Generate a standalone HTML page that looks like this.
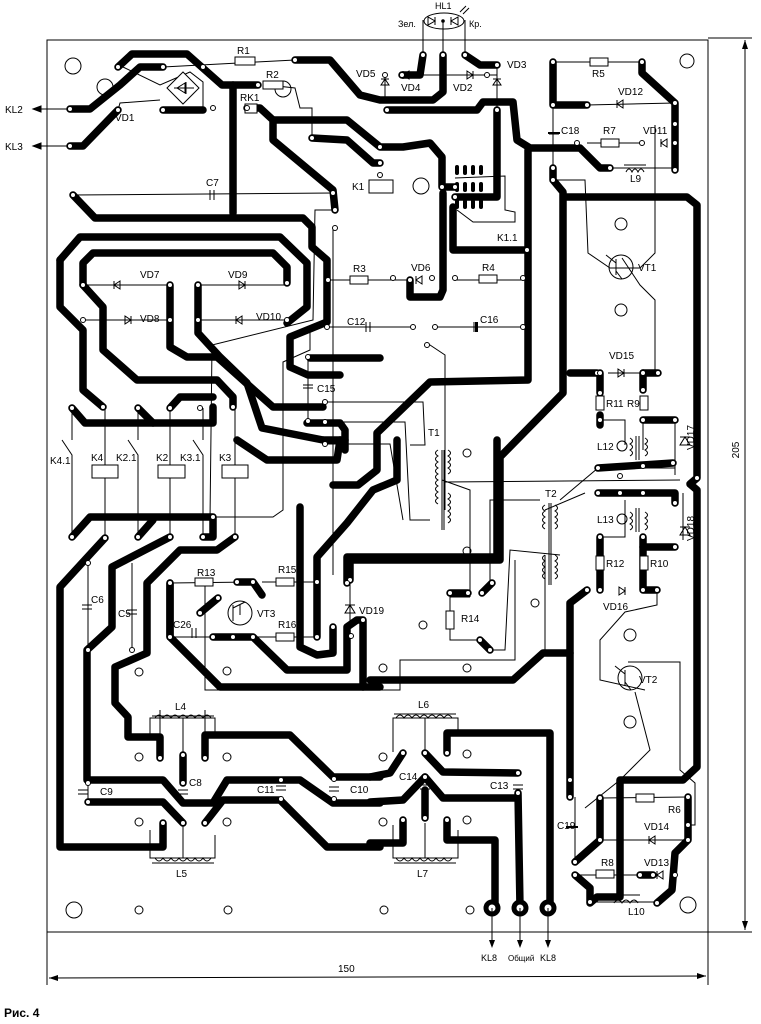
<!DOCTYPE html>
<html><head><meta charset="utf-8"><style>
html,body{margin:0;padding:0;background:#fff}
svg{display:block}
text{font-family:"Liberation Sans",sans-serif;font-size:10px;fill:#000}
.t{fill:none;stroke:#000;stroke-width:7.5;stroke-linejoin:round;stroke-linecap:round}
.n{fill:none;stroke:#000;stroke-width:1}
.p{fill:#fff;stroke:#000;stroke-width:1}
.r{fill:#fff;stroke:#000;stroke-width:1}
</style></head><body>
<svg width="761" height="1024" viewBox="0 0 761 1024" xmlns="http://www.w3.org/2000/svg">
<rect x="47" y="40" width="661" height="892" class="n"/>
<line x1="708" y1="38" x2="752" y2="38" class="n"/>
<line x1="708" y1="932" x2="752" y2="932" class="n"/>
<line x1="745" y1="40" x2="745" y2="930" class="n"/>
<path d="M745 40 l-3 9 h6z M745 930 l-3 -9 h6z"/>
<text x="739" y="450" transform="rotate(-90 739 450)" text-anchor="middle">205</text>
<line x1="47" y1="932" x2="47" y2="985" class="n"/>
<line x1="708" y1="932" x2="708" y2="985" class="n"/>
<line x1="49" y1="978" x2="706" y2="976" class="n"/>
<path d="M49 978 l9 -3 v6z M706 976 l-9 -3 v6z"/>
<text x="338" y="972">150</text>
<text x="4" y="1017" style="font-weight:bold;font-size:12px">Рис. 4</text>

<g class="p">
<circle cx="73" cy="66" r="8"/><circle cx="105" cy="87" r="8"/><circle cx="283" cy="89" r="8"/>
<circle cx="421" cy="186" r="8"/><circle cx="687" cy="61" r="7"/><circle cx="621" cy="224" r="6"/>
<circle cx="621" cy="310" r="6"/><circle cx="630" cy="635" r="6"/><circle cx="630" cy="722" r="6"/>
<circle cx="688" cy="905" r="8"/><circle cx="74" cy="910" r="8"/>
<circle cx="139" cy="910" r="4"/><circle cx="228" cy="910" r="4"/><circle cx="384" cy="910" r="4"/><circle cx="470" cy="910" r="4"/>
<circle cx="139" cy="672" r="4"/><circle cx="227" cy="671" r="4"/><circle cx="139" cy="757" r="4"/><circle cx="227" cy="757" r="4"/>
<circle cx="139" cy="822" r="4"/><circle cx="227" cy="822" r="4"/><circle cx="383" cy="757" r="4"/><circle cx="467" cy="754" r="4"/>
<circle cx="383" cy="822" r="4"/><circle cx="467" cy="820" r="4"/><circle cx="383" cy="668" r="4"/><circle cx="467" cy="668" r="4"/>
<circle cx="423" cy="625" r="4"/><circle cx="535" cy="603" r="4"/><circle cx="467" cy="453" r="4"/><circle cx="467" cy="551" r="4"/>
</g>

<g class="t">
<polyline points="118,67 132,54 187,54 222,85 258,85"/>
<polyline points="70,109 90,109 120,85 140,67 163,67"/>
<polyline points="70,146 83,146 118,110"/>
<polyline points="163,110 203,110"/>
<polyline points="233,85 233,213"/>
<polyline points="73,195 95,218 303,218 312,227 312,247 327,260 327,322 290,337 290,367 308,375 340,375"/>
<polyline points="247,108 260,108 273,120 273,140 333,190 335,210"/>
<polyline points="273,120 347,120 380,147 403,147 430,143 442,157 442,187 455,187"/>
<polyline points="312,138 347,140 373,163 380,163"/>
<polyline points="60,260 80,237 280,237 307,263 307,307 287,323"/>
<polyline points="60,260 60,307 83,330 83,390 103,407"/>
<polyline points="83,285 83,263 93,253 273,253 287,267 287,283"/>
<polyline points="83,285 103,307 103,350 137,380 217,380 233,397 233,407"/>
<polyline points="170,285 170,347 187,357 217,357 273,407 323,407"/>
<polyline points="198,285 198,333 220,357 247,383 262,428 323,440"/>
<polyline points="72,408 85,423 213,423 213,407"/>
<polyline points="138,408 153,423"/>
<polyline points="170,408 180,397 213,397"/>
<polyline points="310,358 380,358"/>
<polyline points="307,423 340,423 345,430 345,450"/>
<polyline points="402,75 420,75 423,55"/>
<polyline points="443,55 443,92 433,100 380,100 360,95 330,60 295,60"/>
<polyline points="465,55 480,65 497,65"/>
<polyline points="387,110 477,110 483,102 513,102 517,140 530,148 580,148 600,168 610,168"/>
<polyline points="497,110 497,197 455,197"/>
<polyline points="410,280 410,297 440,297 443,290 443,193"/>
<polyline points="453,207 453,250 527,250"/>
<polyline points="528,150 528,380 430,382 377,433 377,470 358,485 333,485"/>
<polyline points="553,62 553,105 587,105"/>
<polyline points="642,62 642,73 675,103 675,170"/>
<polyline points="553,168 553,180 563,192 563,393 500,457 500,560 350,560 350,580"/>
<polyline points="567,197 687,197 697,205 697,478 690,484 697,490 697,767 683,780 620,780 620,897 597,897 590,903"/>
<polyline points="570,373 597,373"/>
<polyline points="600,373 600,393"/><polyline points="643,373 658,373"/><polyline points="643,373 643,390"/>
<polyline points="643,420 675,420"/>
<polyline points="600,415 600,425"/><polyline points="598,468 673,463"/>
<polyline points="598,493 675,493 675,503"/>
<polyline points="600,537 600,590"/><polyline points="643,537 643,590 657,590"/><polyline points="643,547 675,547"/>
<polyline points="587,590 570,603 570,797"/>
<polyline points="570,653 543,653 513,680 370,680"/>
<polyline points="380,687 220,687 170,637 170,583"/>
<polyline points="497,440 497,557 370,557 347,557 347,583"/>
<polyline points="450,593 468,593"/><polyline points="482,593 492,583"/><polyline points="480,640 490,650"/>
<polyline points="447,753 447,733 550,733 550,907"/>
<polyline points="425,753 443,772 518,773"/>
<polyline points="518,793 520,907"/>
<polyline points="403,753 390,773 370,777"/>
<polyline points="425,777 443,798 517,798"/>
<polyline points="425,777 403,800 370,802"/>
<polyline points="447,820 447,840 495,840 495,907"/>
<polyline points="403,820 403,843 370,843"/>
<polyline points="425,818 425,790"/>
<polyline points="600,798 600,840 575,862"/>
<polyline points="688,797 688,840 675,853 672,890 657,903"/>
<polyline points="575,875 590,888 590,902"/>
<polyline points="640,875 653,875"/>
<polyline points="72,537 90,517 213,517 213,537 203,537"/>
<polyline points="138,537 153,520"/>
<polyline points="105,538 60,587 60,847 163,847 163,823"/>
<polyline points="170,537 112,567 112,627 87,650 87,780 163,780 183,803 213,803 227,780 300,780 333,803 380,803"/>
<polyline points="235,537 217,550 180,550 147,583 147,653 115,667 115,703 128,717 128,737 160,737 160,758"/>
<polyline points="88,802 163,802 183,823"/>
<polyline points="205,758 205,735 290,735 333,777 380,777"/>
<polyline points="205,823 223,800 280,800 327,847 380,847"/>
<polyline points="183,755 183,783"/>
<polyline points="200,613 218,598"/>
<polyline points="237,582 253,582 262,595"/>
<polyline points="213,637 253,637 287,670 347,670 347,627 357,620 363,620 363,687"/>
<polyline points="170,583 170,637"/>
<polyline points="300,507 300,647 317,655 333,653 333,627"/>
<polyline points="317,637 317,557 347,523 373,490 397,480 397,440"/>
<polyline points="237,440 267,460 337,460 340,440"/>
<polyline points="323,440 345,440"/>
</g>
<g fill="#fff" stroke="#000" stroke-width="5">
<circle cx="492" cy="908" r="6"/><circle cx="520" cy="908" r="6"/><circle cx="548" cy="908" r="6"/>
</g>
<g class="n">
<line x1="492" y1="908" x2="492" y2="945"/><line x1="520" y1="908" x2="520" y2="945"/><line x1="548" y1="908" x2="548" y2="945"/>
</g>
<path d="M492 948 l-3 -8 h6z M520 948 l-3 -8 h6z M548 948 l-3 -8 h6z"/>
<text x="481" y="961" style="font-size:9px">KL8</text><text x="508" y="961" style="font-size:8px">Общий</text><text x="540" y="961" style="font-size:9px">KL8</text>

<g class="n">
<line x1="33" y1="109" x2="70" y2="109"/><line x1="33" y1="146" x2="70" y2="146"/>
<path d="M33 109 l8 -3 v6z M33 146 l8 -3 v6z" fill="#000"/>
<line x1="73" y1="195" x2="333" y2="193"/>
<polyline points="123,67 160,85 190,72 203,82 203,110"/>
<polyline points="118,110 120,103 160,100"/>
<line x1="163" y1="67" x2="295" y2="60"/>
<polyline points="268,85 295,88 300,108 312,108 312,138"/>
<polyline points="335,210 315,210 313,320 212,345 210,520"/>
<polyline points="333,228 333,575"/>
<line x1="83" y1="285" x2="170" y2="285"/><line x1="83" y1="320" x2="170" y2="320"/>
<line x1="198" y1="285" x2="287" y2="285"/><line x1="198" y1="320" x2="287" y2="320"/>
<line x1="328" y1="280" x2="410" y2="280"/><line x1="455" y1="280" x2="527" y2="280"/>
<line x1="328" y1="327" x2="413" y2="327"/><line x1="435" y1="327" x2="527" y2="327"/>
<polyline points="427,343 445,355 445,510"/>
<line x1="308" y1="358" x2="308" y2="425"/>
<polyline points="325,402 423,402 425,445 410,445"/>
<polyline points="325,422 405,422 410,520 430,520"/>
<polyline points="325,444 390,444 403,520"/>
<polyline points="442,480 470,490 470,597"/>
<polyline points="445,482 680,480"/>
<polyline points="490,583 490,500 540,500"/>
<polyline points="470,597 450,597 450,640 480,640"/>
<polyline points="492,650 505,650 510,550 560,555"/>
<polyline points="545,555 545,650"/>
<polyline points="560,500 598,468"/><polyline points="545,510 585,493"/>
<polyline points="553,180 585,180 588,253 610,268 640,268 655,253 655,125"/>
<polyline points="622,258 640,285 655,300 655,373"/>
<polyline points="553,62 642,62"/><polyline points="587,105 675,103"/>
<polyline points="553,105 553,168"/>
<polyline points="587,143 642,143"/><polyline points="610,168 675,168"/>
<polyline points="608,373 643,373"/>
<polyline points="600,420 625,420 625,445"/><polyline points="643,420 643,450"/>
<polyline points="675,420 675,475"/><polyline points="640,468 675,468"/>
<polyline points="683,493 683,540"/>
<polyline points="600,537 625,537 625,500"/>
<polyline points="657,590 657,605 625,612 600,640 600,680 645,690"/>
<polyline points="635,692 650,750 620,780 585,808"/>
<polyline points="628,662 680,662 680,770 695,783 695,825 688,825"/>
<polyline points="205,583 205,690 400,690 400,660 515,660 515,560"/>
<line x1="170" y1="583" x2="253" y2="582"/><line x1="262" y1="582" x2="317" y2="582"/>
<line x1="170" y1="637" x2="213" y2="637"/><line x1="253" y1="637" x2="317" y2="637"/>
<line x1="350" y1="580" x2="350" y2="637"/>
<line x1="600" y1="798" x2="688" y2="797"/><line x1="600" y1="840" x2="688" y2="840"/>
<line x1="575" y1="875" x2="640" y2="875"/><line x1="590" y1="902" x2="657" y2="902"/>
<polyline points="575,797 575,862"/>
<line x1="88" y1="560" x2="88" y2="802"/><line x1="132" y1="563" x2="132" y2="650"/>
<polyline points="72,537 72,455 62,440"/><polyline points="138,537 138,455 128,440"/><polyline points="203,537 203,455 193,440"/>
<line x1="105" y1="478" x2="105" y2="538"/><line x1="105" y1="408" x2="105" y2="465"/>
<line x1="170" y1="478" x2="170" y2="537"/><line x1="170" y1="408" x2="170" y2="465"/>
<line x1="235" y1="478" x2="235" y2="537"/><line x1="235" y1="408" x2="235" y2="465"/>
<polyline points="72,408 72,440"/><polyline points="138,408 138,440"/><polyline points="203,408 203,440"/>
<polyline points="213,517 273,517 283,510 283,362 310,350 310,330"/>
<line x1="423" y1="55" x2="423" y2="20"/><line x1="443" y1="55" x2="443" y2="20"/><line x1="465" y1="55" x2="465" y2="20"/>
<line x1="385" y1="75" x2="385" y2="100"/><line x1="497" y1="65" x2="497" y2="110"/>
<line x1="402" y1="75" x2="497" y2="75"/>
<line x1="160" y1="737" x2="160" y2="710"/><line x1="205" y1="735" x2="205" y2="710"/>
<polyline points="150,735 150,718 215,718 215,735"/><polyline points="150,830 150,858 215,858 215,835"/>
<polyline points="393,752 393,718 458,718 458,735"/><polyline points="393,825 393,858 458,858 458,830"/>
<line x1="183" y1="718" x2="183" y2="755"/><line x1="183" y1="823" x2="183" y2="858"/>
<line x1="425" y1="718" x2="425" y2="753"/><line x1="425" y1="823" x2="425" y2="858"/>
<line x1="152" y1="716" x2="214" y2="716"/><line x1="152" y1="863" x2="214" y2="863"/>
<line x1="394" y1="714" x2="456" y2="714"/><line x1="394" y1="863" x2="456" y2="863"/>
</g>

<g class="r">
<rect x="235" y="57" width="20" height="8"/><rect x="263" y="81" width="20" height="8"/>
<rect x="590" y="58" width="18" height="8"/><rect x="601" y="139" width="18" height="8"/>
<rect x="350" y="276" width="18" height="8"/><rect x="479" y="275" width="18" height="8"/>
<rect x="195" y="578" width="18" height="8"/><rect x="276" y="578" width="18" height="8"/><rect x="276" y="633" width="18" height="8"/>
<rect x="446" y="611" width="8" height="18"/>
<rect x="596" y="396" width="8" height="14"/><rect x="640" y="396" width="8" height="14"/>
<rect x="596" y="556" width="8" height="14"/><rect x="640" y="556" width="8" height="14"/>
<rect x="636" y="794" width="18" height="8"/><rect x="596" y="870" width="18" height="8"/>
<rect x="92" y="465" width="26" height="13"/><rect x="158" y="465" width="27" height="13"/><rect x="222" y="465" width="26" height="13"/>
<rect x="369" y="180" width="24" height="13"/>
<rect x="245" y="104" width="12" height="9"/>
</g>
<path d="M183 72 l16 16 -16 16 -16 -16z" class="r"/>
<path d="M177 88 l8 -5 v10z M186 82 v12 M174 88 h20" class="n" fill="none"/>
<g fill="#000">
<rect x="455" y="165" width="4" height="10" rx="2"/><rect x="463" y="165" width="4" height="10" rx="2"/><rect x="471" y="165" width="4" height="10" rx="2"/><rect x="479" y="165" width="4" height="10" rx="2"/>
<rect x="455" y="182" width="4" height="10" rx="2"/><rect x="463" y="182" width="4" height="10" rx="2"/><rect x="471" y="182" width="4" height="10" rx="2"/><rect x="479" y="182" width="4" height="10" rx="2"/>
<rect x="455" y="199" width="4" height="10" rx="2"/><rect x="463" y="199" width="4" height="10" rx="2"/><rect x="471" y="199" width="4" height="10" rx="2"/><rect x="479" y="199" width="4" height="10" rx="2"/>
</g>
<polyline points="455,178 505,176 505,210 515,212 515,222 473,222 457,210" class="n"/>
<g class="n" fill="none">
<path d="M120 281 v8 l-6 -4z M114 281 v8"/><path d="M125 316 v8 l6 -4z M131 316 v8"/>
<path d="M239 281 v8 l6 -4z M245 281 v8"/><path d="M242 316 v8 l-6 -4z M236 316 v8"/>
<path d="M422 276 v8 l-6 -4z M416 276 v8"/>
<path d="M623 100 v8 l-6 -4z M617 100 v8"/><path d="M667 139 v8 l-6 -4z M661 139 v8"/>
<path d="M618 369 v8 l6 -4z M624 369 v8"/><path d="M619 587 v8 l6 -4z M625 587 v8"/>
<path d="M655 836 v8 l-6 -4z M649 836 v8"/><path d="M663 871 v8 l-6 -4z M657 871 v8"/>
<path d="M409 71 v8 l-6 -4z M403 71 v8"/><path d="M467 71 v8 l6 -4z M473 71 v8"/>
<path d="M381 85 h8 l-4 -6z M381 79 h8"/><path d="M493 85 h8 l-4 -6z M493 79 h8"/>
<path d="M680 445 h10 l-5 -8z M680 437 h10"/><path d="M680 535 h10 l-5 -8z M680 527 h10"/>
<path d="M345 613 h10 l-5 -8z M345 605 h10"/>
<ellipse cx="444" cy="21" rx="20" ry="8"/><path d="M428 17 v8 l7 -4z M435 17 v8 M458 17 v8 l-7 -4z M451 17 v8"/>
<path d="M460 12 l6 -6 M463 14 l6 -6"/>
</g>
<circle cx="443" cy="21" r="1.8"/>
<g class="n" fill="none">
<path d="M210 190 v10 M214 190 v10"/><path d="M366 322 v10 M370 322 v10"/><path d="M474 322 v10"/>
<path d="M549 134 h10"/><path d="M303 385 h10 M303 388 h10"/>
<path d="M82 605 h10 M82 609 h10"/><path d="M127 610 h10 M127 614 h10"/>
<path d="M192 628 v10 M196 628 v10"/>
<path d="M78 790 h10 M78 794 h10"/><path d="M178 790 h10 M178 794 h10"/>
<path d="M276 786 h10 M276 790 h10"/><path d="M329 787 h10 M329 791 h10"/>
<path d="M420 785 h10 M420 789 h10"/><path d="M513 785 h10 M513 789 h10"/>
<path d="M567 827 h10"/>
</g>
<path d="M475 322 h3 v10 h-3z"/><path d="M548 132 h12 v2 h-12z M566 826 h12 v2 h-12z"/>
<g class="n" fill="none">
<circle cx="621" cy="267" r="12"/><path d="M616 259 v16 M616 263 l-10 -8 M616 271 l6 8"/>
<circle cx="630" cy="678" r="12"/><path d="M625 670 v16 M625 674 l-10 -8 M625 682 l6 8"/>
<circle cx="240" cy="613" r="12"/><path d="M233 605 v16 M240 605 v10 M233 608 l12 -6"/>
<path d="M626 172 q3 -6 6 0 q3 -6 6 0 q3 -6 6 0"/><path d="M624 165 h22"/>
<path d="M614 903 q4 -6 8 0 q4 -6 8 0 q4 -6 8 0"/><path d="M616 895 h24"/>
<path d="M438 450 q-5 3 0 6 q-5 3 0 6 q-5 3 0 6 q-5 3 0 6 q-5 3 0 6 q-5 3 0 6 q-5 3 0 6 q-5 3 0 6 q-5 3 0 6"/>
<path d="M442 450 v80 M444 450 v80"/>
<path d="M448 450 q5 3 0 6 q5 3 0 6 q5 3 0 6 q5 3 0 6"/>
<path d="M448 493 q5 3 0 6 q5 3 0 6 q5 3 0 6 q5 3 0 6 q5 3 0 6"/>
<path d="M545 505 q-5 3 0 6 q-5 3 0 6 q-5 3 0 6 q-5 3 0 6 M549 503 v82 M551 503 v82"/>
<path d="M555 505 q5 3 0 6 q5 3 0 6 q5 3 0 6 q5 3 0 6"/>
<path d="M545 555 q-5 3 0 6 q-5 3 0 6 q-5 3 0 6 q-5 3 0 6 M555 555 q5 3 0 6 q5 3 0 6 q5 3 0 6 q5 3 0 6"/>
<circle cx="622" cy="446" r="5"/><path d="M630 438 q5 3 0 6 q5 3 0 6 q5 3 0 6 M636 436 v24 M639 436 v24 M645 438 q5 3 0 6 q5 3 0 6 q5 3 0 6"/>
<circle cx="622" cy="519" r="5"/><path d="M630 512 q5 3 0 6 q5 3 0 6 q5 3 0 6 M636 508 v24 M639 508 v24 M645 512 q5 3 0 6 q5 3 0 6 q5 3 0 6"/>
<path d="M155 718 q4 -6 8 0 q4 -6 8 0 q4 -6 8 0 q4 -6 8 0 q4 -6 8 0 q4 -6 8 0 q4 -6 8 0"/>
<path d="M155 858 q4 6 8 0 q4 6 8 0 q4 6 8 0 q4 6 8 0 q4 6 8 0 q4 6 8 0 q4 6 8 0"/>
<path d="M396 718 q4 -6 8 0 q4 -6 8 0 q4 -6 8 0 q4 -6 8 0 q4 -6 8 0 q4 -6 8 0 q4 -6 8 0"/>
<path d="M396 858 q4 6 8 0 q4 6 8 0 q4 6 8 0 q4 6 8 0 q4 6 8 0 q4 6 8 0 q4 6 8 0"/>
</g>
<g class="p">
<circle cx="118" cy="67" r="2.5"/><circle cx="163" cy="67" r="2.5"/><circle cx="203" cy="67" r="2.5"/><circle cx="258" cy="85" r="2.5"/><circle cx="295" cy="60" r="2.5"/>
<circle cx="70" cy="109" r="2.5"/><circle cx="118" cy="110" r="2.5"/><circle cx="70" cy="146" r="2.5"/><circle cx="163" cy="110" r="2.5"/><circle cx="213" cy="108" r="2.5"/><circle cx="247" cy="108" r="2.5"/>
<circle cx="312" cy="138" r="2.5"/><circle cx="73" cy="195" r="2.5"/><circle cx="333" cy="193" r="2.5"/><circle cx="335" cy="210" r="2.5"/><circle cx="335" cy="228" r="2.5"/>
<circle cx="83" cy="285" r="2.5"/><circle cx="170" cy="285" r="2.5"/><circle cx="198" cy="285" r="2.5"/><circle cx="287" cy="283" r="2.5"/>
<circle cx="83" cy="320" r="2.5"/><circle cx="170" cy="320" r="2.5"/><circle cx="198" cy="320" r="2.5"/><circle cx="287" cy="320" r="2.5"/>
<circle cx="328" cy="280" r="2.5"/><circle cx="393" cy="278" r="2.5"/><circle cx="410" cy="280" r="2.5"/><circle cx="432" cy="278" r="2.5"/><circle cx="455" cy="278" r="2.5"/><circle cx="523" cy="278" r="2.5"/>
<circle cx="327" cy="327" r="2.5"/><circle cx="413" cy="327" r="2.5"/><circle cx="435" cy="327" r="2.5"/><circle cx="523" cy="327" r="2.5"/><circle cx="427" cy="345" r="2.5"/>
<circle cx="308" cy="357" r="2.5"/><circle cx="325" cy="402" r="2.5"/><circle cx="308" cy="421" r="2.5"/><circle cx="325" cy="422" r="2.5"/><circle cx="325" cy="444" r="2.5"/>
<circle cx="72" cy="408" r="2.5"/><circle cx="103" cy="407" r="2.5"/><circle cx="138" cy="408" r="2.5"/><circle cx="170" cy="408" r="2.5"/><circle cx="200" cy="408" r="2.5"/><circle cx="233" cy="407" r="2.5"/>
<circle cx="72" cy="537" r="2.5"/><circle cx="105" cy="538" r="2.5"/><circle cx="138" cy="537" r="2.5"/><circle cx="170" cy="537" r="2.5"/><circle cx="203" cy="537" r="2.5"/><circle cx="235" cy="537" r="2.5"/><circle cx="213" cy="517" r="2.5"/>
<circle cx="88" cy="563" r="2.5"/><circle cx="88" cy="650" r="2.5"/><circle cx="132" cy="650" r="2.5"/>
<circle cx="170" cy="583" r="2.5"/><circle cx="237" cy="582" r="2.5"/><circle cx="253" cy="582" r="2.5"/><circle cx="317" cy="582" r="2.5"/><circle cx="200" cy="613" r="2.5"/><circle cx="218" cy="598" r="2.5"/>
<circle cx="170" cy="637" r="2.5"/><circle cx="213" cy="637" r="2.5"/><circle cx="233" cy="637" r="2.5"/><circle cx="253" cy="637" r="2.5"/><circle cx="317" cy="637" r="2.5"/><circle cx="350" cy="580" r="2.5"/><circle cx="351" cy="636" r="2.5"/>
<circle cx="160" cy="758" r="2.5"/><circle cx="205" cy="758" r="2.5"/><circle cx="183" cy="755" r="2.5"/><circle cx="183" cy="783" r="2.5"/><circle cx="88" cy="783" r="2.5"/><circle cx="88" cy="802" r="2.5"/>
<circle cx="163" cy="823" r="2.5"/><circle cx="183" cy="823" r="2.5"/><circle cx="205" cy="823" r="2.5"/><circle cx="281" cy="780" r="2.5"/><circle cx="281" cy="799" r="2.5"/><circle cx="334" cy="779" r="2.5"/><circle cx="334" cy="799" r="2.5"/>
<circle cx="403" cy="753" r="2.5"/><circle cx="425" cy="753" r="2.5"/><circle cx="447" cy="753" r="2.5"/><circle cx="425" cy="777" r="2.5"/><circle cx="518" cy="773" r="2.5"/><circle cx="518" cy="793" r="2.5"/>
<circle cx="403" cy="820" r="2.5"/><circle cx="425" cy="818" r="2.5"/><circle cx="447" cy="820" r="2.5"/>
<circle cx="450" cy="593" r="2.5"/><circle cx="468" cy="593" r="2.5"/><circle cx="482" cy="593" r="2.5"/><circle cx="492" cy="583" r="2.5"/><circle cx="480" cy="640" r="2.5"/><circle cx="490" cy="650" r="2.5"/>
<circle cx="385" cy="75" r="2.5"/><circle cx="402" cy="75" r="2.5"/><circle cx="423" cy="55" r="2.5"/><circle cx="443" cy="55" r="2.5"/><circle cx="465" cy="55" r="2.5"/><circle cx="487" cy="75" r="2.5"/><circle cx="497" cy="65" r="2.5"/><circle cx="387" cy="110" r="2.5"/><circle cx="497" cy="110" r="2.5"/>
<circle cx="553" cy="62" r="2.5"/><circle cx="642" cy="62" r="2.5"/><circle cx="553" cy="105" r="2.5"/><circle cx="587" cy="105" r="2.5"/><circle cx="675" cy="103" r="2.5"/><circle cx="675" cy="124" r="2.5"/><circle cx="675" cy="143" r="2.5"/><circle cx="675" cy="170" r="2.5"/>
<circle cx="577" cy="143" r="2.5"/><circle cx="642" cy="143" r="2.5"/><circle cx="610" cy="168" r="2.5"/><circle cx="553" cy="168" r="2.5"/><circle cx="553" cy="180" r="2.5"/>
<circle cx="527" cy="250" r="2.5"/><circle cx="597" cy="373" r="2.5"/><circle cx="600" cy="373" r="2.5"/><circle cx="643" cy="373" r="2.5"/><circle cx="658" cy="373" r="2.5"/>
<circle cx="600" cy="393" r="2.5"/><circle cx="643" cy="390" r="2.5"/><circle cx="600" cy="420" r="2.5"/><circle cx="643" cy="420" r="2.5"/><circle cx="675" cy="420" r="2.5"/>
<circle cx="598" cy="468" r="2.5"/><circle cx="643" cy="466" r="2.5"/><circle cx="673" cy="463" r="2.5"/><circle cx="620" cy="476" r="2.5"/><circle cx="697" cy="478" r="2.5"/>
<circle cx="598" cy="493" r="2.5"/><circle cx="620" cy="493" r="2.5"/><circle cx="643" cy="493" r="2.5"/><circle cx="675" cy="503" r="2.5"/>
<circle cx="600" cy="537" r="2.5"/><circle cx="643" cy="537" r="2.5"/><circle cx="675" cy="547" r="2.5"/><circle cx="600" cy="590" r="2.5"/><circle cx="587" cy="590" r="2.5"/><circle cx="643" cy="590" r="2.5"/><circle cx="657" cy="590" r="2.5"/>
<circle cx="570" cy="780" r="2.5"/><circle cx="570" cy="797" r="2.5"/><circle cx="575" cy="862" r="2.5"/><circle cx="600" cy="798" r="2.5"/><circle cx="688" cy="797" r="2.5"/><circle cx="688" cy="825" r="2.5"/><circle cx="600" cy="840" r="2.5"/><circle cx="688" cy="840" r="2.5"/>
<circle cx="575" cy="875" r="2.5"/><circle cx="640" cy="875" r="2.5"/><circle cx="653" cy="875" r="2.5"/><circle cx="675" cy="875" r="2.5"/><circle cx="590" cy="902" r="2.5"/><circle cx="657" cy="903" r="2.5"/>
<circle cx="347" cy="583" r="2.5"/><circle cx="363" cy="620" r="2.5"/><circle cx="333" cy="627" r="2.5"/>
<circle cx="455" cy="187" r="2.5"/><circle cx="455" cy="197" r="2.5"/><circle cx="442" cy="187" r="2.5"/><circle cx="380" cy="147" r="2.5"/><circle cx="380" cy="163" r="2.5"/><circle cx="380" cy="175" r="2.5"/>
</g>
<g>
<text x="237" y="54">R1</text><text x="266" y="78">R2</text><text x="115" y="121">VD1</text><text x="240" y="101">RK1</text>
<text x="5" y="113">KL2</text><text x="5" y="150">KL3</text>
<text x="356" y="77">VD5</text><text x="401" y="91">VD4</text><text x="453" y="91">VD2</text><text x="507" y="68">VD3</text>
<text x="435" y="9" style="font-size:9px">HL1</text><text x="398" y="27" style="font-size:9px">Зел.</text><text x="469" y="27" style="font-size:9px">Кр.</text>
<text x="592" y="77">R5</text><text x="618" y="95">VD12</text><text x="561" y="134">C18</text><text x="603" y="134">R7</text><text x="643" y="134">VD11</text><text x="630" y="182">L9</text>
<text x="206" y="186">C7</text><text x="352" y="190">K1</text><text x="497" y="241">K1.1</text>
<text x="353" y="272">R3</text><text x="411" y="271">VD6</text><text x="482" y="271">R4</text>
<text x="140" y="278">VD7</text><text x="228" y="278">VD9</text><text x="140" y="322">VD8</text><text x="256" y="320">VD10</text>
<text x="347" y="325">C12</text><text x="480" y="323">C16</text><text x="638" y="271">VT1</text>
<text x="317" y="392">C15</text><text x="609" y="359">VD15</text><text x="606" y="407">R11</text><text x="627" y="407">R9</text>
<text x="597" y="450">L12</text><text x="428" y="436">T1</text><text x="545" y="497">T2</text><text x="597" y="523">L13</text>
<text x="606" y="567">R12</text><text x="650" y="567">R10</text><text x="603" y="610">VD16</text>
<text x="50" y="464">K4.1</text><text x="91" y="461">K4</text><text x="116" y="461">K2.1</text><text x="156" y="461">K2</text><text x="180" y="461">K3.1</text><text x="219" y="461">K3</text>
<text x="197" y="576">R13</text><text x="278" y="573">R15</text><text x="257" y="617">VT3</text><text x="173" y="628">C26</text><text x="278" y="628">R16</text>
<text x="359" y="614">VD19</text><text x="461" y="622">R14</text><text x="91" y="603">C6</text><text x="118" y="617">C5</text>
<text x="639" y="683">VT2</text><text x="175" y="710">L4</text><text x="418" y="708">L6</text>
<text x="189" y="786">C8</text><text x="399" y="780">C14</text><text x="490" y="789">C13</text><text x="100" y="795">C9</text><text x="257" y="793">C11</text><text x="350" y="793">C10</text>
<text x="557" y="829">C19</text><text x="668" y="813">R6</text><text x="644" y="830">VD14</text><text x="601" y="866">R8</text><text x="644" y="866">VD13</text><text x="628" y="915">L10</text>
<text x="176" y="877">L5</text><text x="417" y="877">L7</text>
<text x="694" y="450" transform="rotate(-90 694 450)">VD17</text><text x="694" y="541" transform="rotate(-90 694 541)">VD18</text>
</g>
</svg>
</body></html>
